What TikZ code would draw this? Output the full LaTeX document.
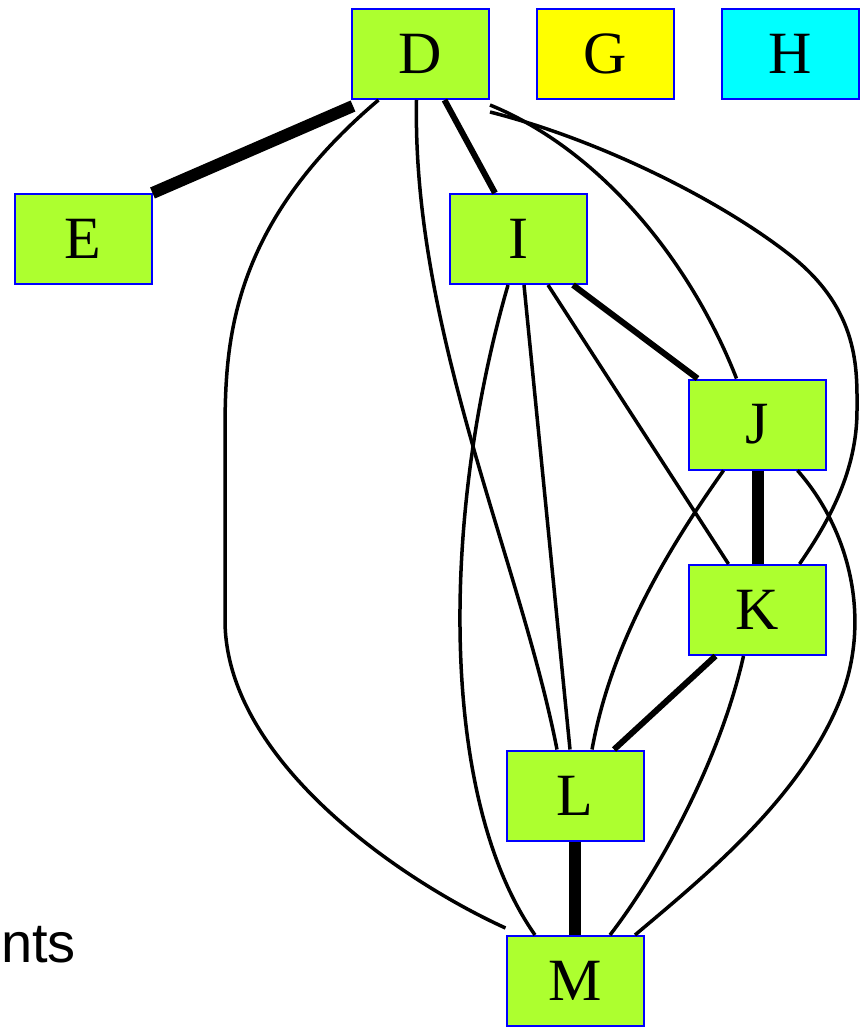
\documentclass[tikz,border=0pt]{standalone}
\usepackage{fontspec}
\setmainfont{Liberation Serif}
\newfontfamily\labelsans{Liberation Sans}
\usetikzlibrary{positioning}
\definecolor{grpgreen}{HTML}{ADFF2F}
\definecolor{grpyellow}{HTML}{FFFF00}
\definecolor{grpcyan}{HTML}{00FFFF}
\definecolor{grpedge}{HTML}{0000FF}
\tikzset{
  member/.style={rectangle, draw=grpedge, line width=2pt, minimum width=137pt,
    minimum height=90pt, inner sep=0pt, fill=grpgreen, font=\fontsize{60}{60}\selectfont},
  link/.style={line width=3.5pt, black},
  midlink/.style={line width=6pt, black},
  strong/.style={line width=12pt, black},
}

\begin{document}
\begin{tikzpicture}[x=1pt, y=-1pt, node distance=46pt]
        \useasboundingbox (0,0) rectangle (859,1027);
        \node[member] (D) at (420.5,54) {D};
        \node[member, fill=grpyellow, right=of D] (G) {G};
        \node[member, fill=grpcyan, right=of G] (H) {H};
        \node[member] (E) at (83,239) {E};
        \node[member] (I) at (518,239) {I};
        \node[member] (J) at (757.5,424.5) {J};
        \node[member] (K) at (757.5,610) {K};
        \node[member] (L) at (575,795.5) {L};
        \node[member] (M) at (575,981) {M};
        \node[font=\labelsans\fontsize{56}{56}\selectfont, anchor=base west, inner sep=0pt] (tail) at (1,962) {nts};
        % strong ties
        \draw[strong] ([xshift=2pt,yshift=-6pt]D.south west) -- (E.north east);
        \draw[strong] (J) -- (K);
        \draw[strong] (L) -- (M);
        % medium ties
        \draw[midlink] ([xshift=24pt]D.south) -- ([xshift=-23pt]I.north);
        \draw[midlink] ([xshift=55pt]I.south) -- ([xshift=-60pt]J.north);
        \draw[midlink] ([xshift=-42pt]K.south) -- ([xshift=39pt]L.north);
        % ordinary ties
        \draw[link] ([xshift=-42pt]D.south) .. controls (225,230) and (225,350) .. (225,440)
          -- (225,620) .. controls (225,760) and (400,880) .. ([yshift=7pt]M.north west);
        \draw[link] ([xshift=-4pt]D.south) .. controls (412,330) and (520,560) .. ([xshift=-18pt]L.north);
        \draw[link] ([yshift=-5pt]D.south east) .. controls (600,150) and (690,260) .. ([xshift=-21pt]J.north);
        \draw[link] ([yshift=-12pt]D.south east) .. controls (600,140) and (720,200) .. (790,255)
          .. controls (860,310) and (857,370) .. (857,410)
          .. controls (857,470) and (830,520) .. ([xshift=42pt]K.north);
        \draw[link] ([xshift=30pt]I.south) -- ([xshift=-29pt]K.north);
        \draw[link] ([xshift=6pt]I.south) -- ([xshift=-5pt]L.north);
        \draw[link] ([xshift=-10pt]I.south) .. controls (440,520) and (440,800) .. ([xshift=-40pt]M.north);
        \draw[link] ([xshift=-34pt]J.south) .. controls (660,560) and (610,650) .. ([xshift=17pt]L.north);
        \draw[link] ([xshift=40pt]J.south) .. controls (850,530) and (872,620) .. (840,700)
          .. controls (800,800) and (700,880) .. ([xshift=60pt]M.north);
        \draw[link] ([xshift=-14pt]K.south) .. controls (720,760) and (660,870) .. ([xshift=35pt]M.north);
      \end{tikzpicture}
\end{document}
